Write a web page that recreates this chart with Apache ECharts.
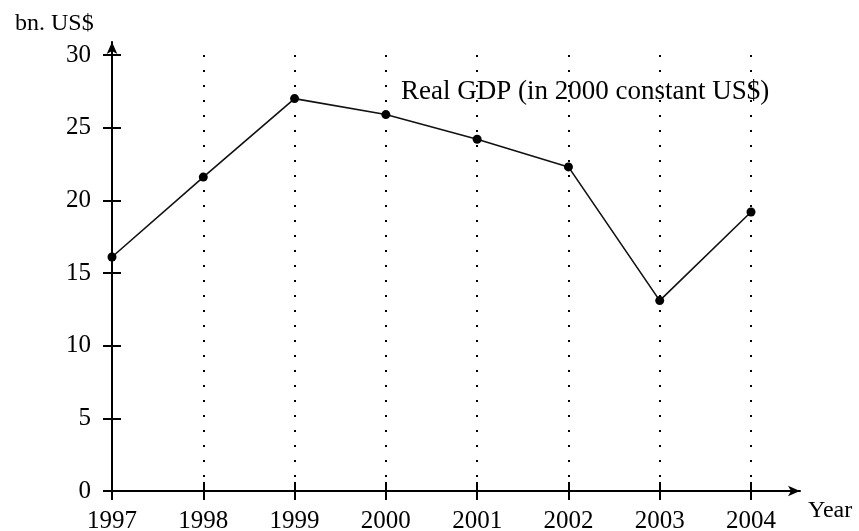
<!DOCTYPE html>
<html>
<head>
<meta charset="utf-8">
<script src="https://cdn.jsdelivr.net/npm/echarts@6/dist/echarts.min.js"></script>
<style>
  html, body { margin: 0; padding: 0; background: #fff; }
  #chart { width: 859px; height: 531px; }
</style>
</head>
<body>
<div id="chart"></div>
<script>
  // data
  var years = [1997, 1998, 1999, 2000, 2001, 2002, 2003, 2004];
  var gdp = [16.1, 21.6, 27.0, 25.9, 24.2, 22.3, 13.1, 19.2];
  var yTicks = [0, 5, 10, 15, 20, 25, 30];

  var font = 'Liberation Serif';
  var points = years.map(function (y, i) { return [y, gdp[i]]; });

  var chart = echarts.init(document.getElementById('chart'));
  chart.setOption({
    animation: false,
    backgroundColor: '#fff',
    textStyle: { fontFamily: font, color: '#000' },
    title: [
      { text: 'bn. US$', left: 10, top: 7, textStyle: { fontFamily: font, fontSize: 24, fontWeight: 'normal', color: '#000' } },
      { text: 'Real GDP (in 2000 constant US$)', left: 396, top: 73, textStyle: { fontFamily: font, fontSize: 27, fontWeight: 'normal', color: '#000' } },
      { text: 'Year', left: 803, top: 494, textStyle: { fontFamily: font, fontSize: 24, fontWeight: 'normal', color: '#000' } }
    ],
    grid: [
      // main plot
      { left: 112, right: 108, top: 55, bottom: 40, outerBoundsMode: 'none' },
      // axis lines with arrows, a bit longer than the plot
      { left: 112, right: 59, top: 42, bottom: 40, outerBoundsMode: 'none' }
    ],
    xAxis: [
      {
        type: 'value', gridIndex: 0, min: 1997, max: 2004, interval: 1,
        axisLine: { show: false },
        axisTick: { show: true, length: 9, lineStyle: { color: '#000', width: 2 } },
        axisLabel: { fontFamily: font, fontSize: 25, color: '#000', margin: 18, formatter: function (v) { return String(v); } },
        splitLine: { show: true, lineStyle: { color: '#000', width: 2, type: [2, 13] } }
      },
      {
        type: 'value', gridIndex: 0, min: 1997, max: 2004, interval: 1, position: 'bottom',
        axisLine: { show: false },
        axisTick: { show: true, inside: true, length: 9, lineStyle: { color: '#000', width: 2 } },
        axisLabel: { show: false },
        splitLine: { show: false }
      },
      {
        type: 'value', gridIndex: 1, min: 0, max: 1,
        axisLine: { show: true, symbol: ['none', 'arrow'], symbolSize: [8, 12], lineStyle: { color: '#000', width: 2 } },
        axisTick: { show: false }, axisLabel: { show: false }, splitLine: { show: false }
      }
    ],
    yAxis: [
      {
        type: 'value', gridIndex: 0, min: 0, max: 30, interval: 5,
        axisLine: { show: false },
        axisTick: { show: true, length: 9, lineStyle: { color: '#000', width: 2 } },
        axisLabel: {
          fontFamily: font, fontSize: 25, color: '#000', margin: 21,
          formatter: function (v) { return yTicks.indexOf(v) >= 0 ? String(v) : ''; }
        },
        splitLine: { show: false }
      },
      {
        type: 'value', gridIndex: 0, min: 0, max: 30, interval: 5, position: 'left',
        axisLine: { show: false },
        axisTick: { show: true, inside: true, length: 9, lineStyle: { color: '#000', width: 2 } },
        axisLabel: { show: false },
        splitLine: { show: false }
      },
      {
        type: 'value', gridIndex: 1, min: 0, max: 1,
        axisLine: { show: true, symbol: ['none', 'arrow'], symbolSize: [8, 12], lineStyle: { color: '#000', width: 2 } },
        axisTick: { show: false }, axisLabel: { show: false }, splitLine: { show: false }
      }
    ],
    series: [
      {
        type: 'line',
        xAxisIndex: 0, yAxisIndex: 0,
        data: points,
        symbol: 'circle',
        symbolSize: 9,
        itemStyle: { color: '#000' },
        lineStyle: { color: '#111', width: 1.6 }
      }
    ]
  });
</script>
</body>
</html>
